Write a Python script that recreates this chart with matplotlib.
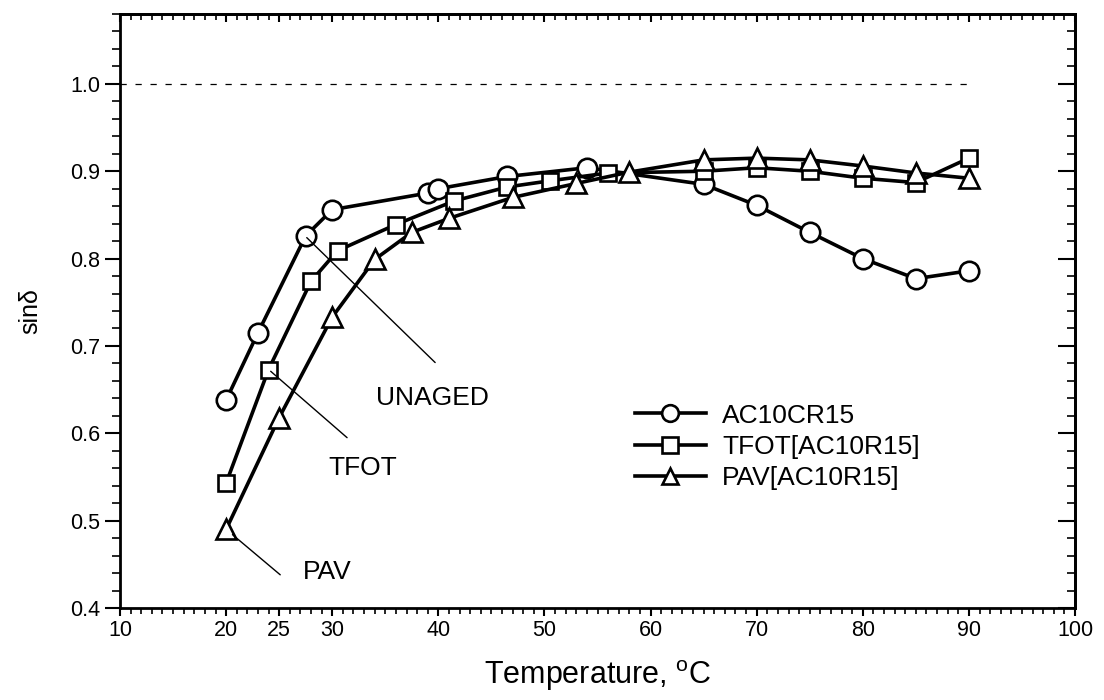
import matplotlib
matplotlib.use("Agg")
import matplotlib.pyplot as plt
from matplotlib.ticker import MultipleLocator, FixedLocator

plt.rcParams['font.family'] = ['Liberation Sans', 'DejaVu Sans']
plt.rcParams['mathtext.fontset'] = 'custom'
plt.rcParams['mathtext.rm'] = 'Liberation Sans'

# ---- data ----
temp_unaged = [20, 23, 27.5, 30, 39, 40, 46.5, 54, 65, 70, 75, 80, 85, 90]
sin_unaged = [0.638, 0.715, 0.826, 0.856, 0.875, 0.880, 0.894, 0.904,
              0.885, 0.861, 0.830, 0.800, 0.777, 0.786]

temp_tfot = [20, 24, 28, 30.5, 36, 41.5, 46.5, 50.5, 56, 65, 70, 75, 80, 85, 90]
sin_tfot = [0.543, 0.673, 0.774, 0.809, 0.839, 0.866, 0.882, 0.889, 0.898,
            0.900, 0.904, 0.900, 0.892, 0.887, 0.915]

temp_pav = [20, 25, 30, 34, 37.5, 41, 47, 53, 58, 65, 70, 75, 80, 85, 90]
sin_pav = [0.490, 0.618, 0.733, 0.799, 0.830, 0.846, 0.870, 0.886, 0.899,
           0.913, 0.915, 0.913, 0.906, 0.898, 0.892]

labels = ['AC10CR15', 'TFOT[AC10R15]', 'PAV[AC10R15]']
x_ticks = [10, 20, 25, 30, 40, 50, 60, 70, 80, 90, 100]
y_ticks = [0.4, 0.5, 0.6, 0.7, 0.8, 0.9, 1.0]

fig = plt.figure(figsize=(11.04, 7.0), dpi=100)
ax = fig.add_axes([120/1104, 1-608/700, (1075-120)/1104, (608-14)/700])

common = dict(color='black', lw=2.6, markerfacecolor='white',
              markeredgecolor='black', markeredgewidth=1.9)
ax.plot(temp_unaged, sin_unaged, marker='o', markersize=14, label=labels[0], **common)
ax.plot(temp_tfot, sin_tfot, marker='s', markersize=12, label=labels[1], **common)
ax.plot(temp_pav, sin_pav, marker='^', markersize=15, label=labels[2], **common)

# reference line sin(delta)=1
ax.plot([10, 90.5], [1.0, 1.0], color='black', lw=0.9, dashes=(5, 7))

ax.set_xlim(10, 100)
ax.set_ylim(0.4, 1.08)

# annotations
arrow = dict(arrowstyle='-', color='black', lw=1.0, shrinkA=0, shrinkB=0)
ax.annotate('', xy=(27.6, 0.824), xytext=(39.7, 0.681), arrowprops=arrow)
ax.text(34.1, 0.640, 'UNAGED', fontsize=19, va='center', ha='left')
ax.annotate('', xy=(24.2, 0.671), xytext=(31.4, 0.595), arrowprops=arrow)
ax.text(29.6, 0.560, 'TFOT', fontsize=19, va='center', ha='left')
ax.annotate('', xy=(20.6, 0.484), xytext=(25.1, 0.438), arrowprops=arrow)
ax.text(27.2, 0.441, 'PAV', fontsize=19, va='center', ha='left')

# ticks
ax.xaxis.set_major_locator(FixedLocator(x_ticks))
ax.xaxis.set_minor_locator(MultipleLocator(1))
ax.yaxis.set_major_locator(FixedLocator(y_ticks))
ax.yaxis.set_minor_locator(MultipleLocator(0.02))
ax.set_yticklabels([f'{v:.1f}' for v in y_ticks])
ax.tick_params(axis='both', which='major', labelsize=15.5, width=1.5, color='black')
ax.tick_params(axis='x', which='major', direction='out', length=6, pad=3)
ax.tick_params(axis='x', which='minor', direction='out', length=4, width=1.2)
ax.tick_params(axis='y', which='major', direction='out', length=11, pad=3)
ax.tick_params(axis='y', which='minor', direction='out', length=6, width=1.2)

secx = ax.secondary_xaxis('top')
secx.xaxis.set_major_locator(FixedLocator(x_ticks))
secx.xaxis.set_minor_locator(MultipleLocator(1))
secx.tick_params(which='major', direction='in', length=6, width=1.5, labeltop=False)
secx.tick_params(which='minor', direction='in', length=4, width=1.2)

secy = ax.secondary_yaxis('right')
secy.yaxis.set_major_locator(FixedLocator(y_ticks))
secy.yaxis.set_minor_locator(MultipleLocator(0.02))
secy.tick_params(which='major', direction='in', length=12, width=1.5, labelright=False)
secy.tick_params(which='minor', direction='in', length=6, width=1.2)

for s in ax.spines.values():
    s.set_linewidth(2)
secx.spines['top'].set_linewidth(2)
secy.spines['right'].set_linewidth(2)

ax.set_xlabel('Temperature, $^{\\mathrm{o}}$C', fontsize=22, labelpad=12)
ax.set_ylabel('sin\u03b4', fontsize=18, labelpad=20)

leg = ax.legend(loc='upper left', bbox_to_anchor=(0.528, 0.362), frameon=False,
                fontsize=19, handlelength=2.7, handletextpad=0.6,
                labelspacing=0.28, numpoints=1, borderaxespad=0)
for h in leg.legend_handles:
    h.set_markersize(12)

fig.savefig('out.png', dpi=100)
